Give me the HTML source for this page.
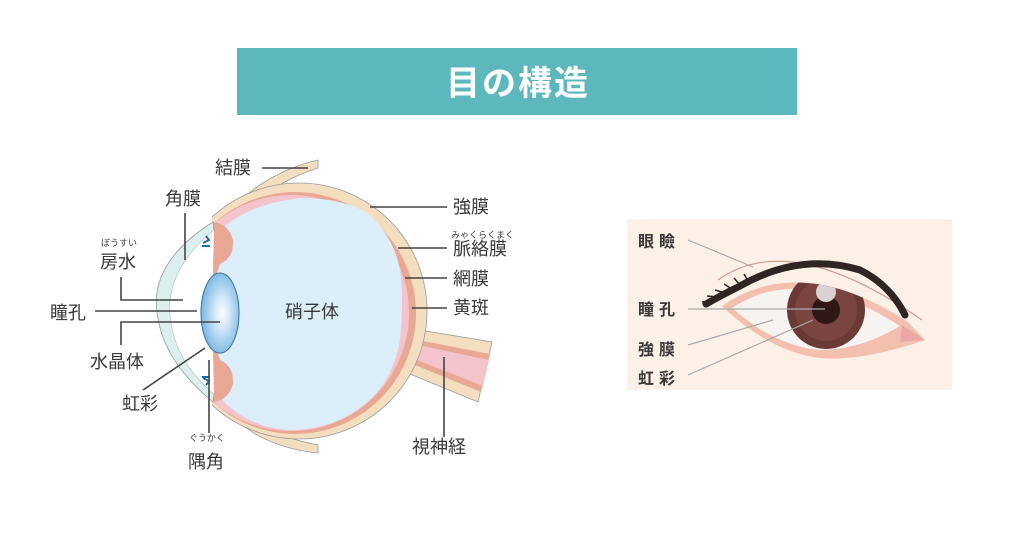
<!DOCTYPE html>
<html><head><meta charset="utf-8"><style>
html,body{margin:0;padding:0;background:#fff;width:1024px;height:553px;overflow:hidden}
svg{display:block}
text{font-family:"Liberation Sans","Noto Sans CJK JP",sans-serif;fill:#3a3a3a}
</style></head><body>
<svg width="1024" height="553" viewBox="0 0 1024 553" xmlns="http://www.w3.org/2000/svg">
<defs>
<radialGradient id="lens" cx="0.55" cy="0.5" r="0.6">
<stop offset="0" stop-color="#ffffff"/><stop offset="0.35" stop-color="#cfe6f7"/><stop offset="1" stop-color="#6aaee0"/>
</radialGradient>
<clipPath id="eyeclip"><path d="M722 306 Q800 252 908 322 L925 340 Q860 362 820 358 Q770 352 722 306Z"/></clipPath>
<clipPath id="right"><rect x="212" y="0" width="400" height="553"/></clipPath>
</defs>
<rect x="237" y="48" width="560" height="67" fill="#5db8be"/>
<text x="518" y="95" text-anchor="middle" font-size="34" font-weight="bold" style="fill:#fff" letter-spacing="2">目の構造</text>

<!-- optic nerve -->
<path d="M420 330 L492 342 L478 402 L405 372 Z" fill="#f3dfc0" stroke="#9a9a9a" stroke-width="0.8"/>
<path d="M418 340 L490 354 L481 392 L410 363 Z" fill="#e8a894"/>
<path d="M418 345 L489 360 L483 386 L412 358 Z" fill="#f4c4cc"/>
<!-- conjunctiva flaps -->
<path d="M236 205 Q268 172 318 160 L318 168 Q280 180 252 205 Z" fill="#f3dfc0" stroke="#9a9a9a" stroke-width="0.8"/>
<path d="M236 420 Q268 448 318 453 L318 445 Q280 438 252 420 Z" fill="#f3dfc0" stroke="#9a9a9a" stroke-width="0.8"/>
<g clip-path="url(#right)">
<circle cx="299" cy="311" r="128" fill="#f3dfc0" stroke="#9a9a9a" stroke-width="0.8"/>
<circle cx="295" cy="313" r="121" fill="#e8a894"/>
<circle cx="291" cy="313" r="118" fill="#f4c4cc"/>
<path d="M210 240 Q240 205 300 198 Q345 198 370 215 Q395 240 400 270 Q404 300 400 340 Q392 385 360 408 Q330 430 290 430 Q240 428 210 385 Z" fill="#dbeefa"/>
<path d="M210 222 Q228 222 233 240 Q234 258 220 264 L208 300 Z" fill="#e8a894"/>
<path d="M210 402 Q228 402 233 384 Q234 366 220 360 L208 325 Z" fill="#e8a894"/>
</g>
<!-- cornea -->
<path d="M213 222 Q150 262 157 312 Q162 360 213 402 L214 394 Q172 358 170 312 Q168 268 214 230 Z" fill="#dcefef" stroke="#9a9a9a" stroke-width="0.8"/>
<path d="M214 230 Q168 268 170 312 Q172 358 214 394 L212 312Z" fill="#fff"/>
<path d="M203 243 l6 -3 l-3 -4 M202 246 l8 0" stroke="#1a6cb0" stroke-width="2" fill="none"/>
<path d="M203 378 l6 3 l-3 4 M202 377 l8 0" stroke="#1a6cb0" stroke-width="2" fill="none"/>
<ellipse cx="220" cy="313" rx="19" ry="40" fill="url(#lens)" stroke="#3d6e9a" stroke-width="1"/>
<text x="312" y="318" text-anchor="middle" font-size="18">硝子体</text>

<g stroke="#444" stroke-width="1.6" fill="none">
<path d="M262 168 H308"/><path d="M185 213 V260"/><path d="M121 277 V300 H183"/>
<path d="M95 311 H197"/><path d="M121 345 V322 H220"/><path d="M143 390 L205 348"/>
<path d="M209 360 V433"/><path d="M370 207 H447"/><path d="M398 248 H447"/>
<path d="M405 278 H447"/><path d="M412 308 H447"/><path d="M444 357 V437"/>
</g>
<g font-size="18">
<text x="215" y="174">結膜</text><text x="165" y="205">角膜</text>
<text x="100" y="268">房水</text><text x="101" y="246" font-size="9">ぼうすい</text>
<text x="50" y="319">瞳孔</text><text x="90" y="368">水晶体</text>
<text x="122" y="410">虹彩</text><text x="188" y="468">隅角</text><text x="189" y="441" font-size="9">ぐうかく</text>
<text x="453" y="213">強膜</text><text x="451" y="238" font-size="9">みゃくらくまく</text>
<text x="453" y="255">脈絡膜</text><text x="453" y="285">網膜</text><text x="453" y="314">黄斑</text>
<text x="412" y="453">視神経</text>
</g>

<!-- right eye -->
<rect x="627" y="219" width="325" height="171" fill="#fdf0e6"/>
<path d="M718 280 Q790 228 922 320" stroke="#d49a90" stroke-width="1.2" fill="none"/>
<path d="M722 306 Q800 252 908 322 L925 340 Q860 362 820 358 Q770 352 722 306Z" fill="#f3bfae"/>
<path d="M732 308 Q800 262 900 326 Q860 350 820 350 Q775 346 732 308Z" fill="#f7f3f0"/>
<g clip-path="url(#eyeclip)">
<circle cx="826" cy="310" r="39" fill="#6b3a36"/>
<circle cx="826" cy="310" r="31" fill="#7a4541"/>
<circle cx="826" cy="310" r="14" fill="#2e1715"/>
<circle cx="826" cy="292" r="10" fill="#d8d2d2"/>
</g>
<path d="M902 325 L925 340 L900 342Z" fill="#eca7a4"/>
<path d="M706 304 Q720 296 740 286 Q800 252 860 270 Q890 285 905 315" stroke="#2f2522" stroke-width="7" fill="none" stroke-linecap="round"/>
<g stroke="#2f2522" stroke-width="1.5">
<path d="M712 301 l-10 1"/><path d="M718 297 l-11 -1"/><path d="M725 293 l-10 -3"/><path d="M732 289 l-8 -5"/><path d="M740 285 l-6 -7"/><path d="M748 281 l-4 -7"/>
</g>
<g stroke="#aaa" stroke-width="1.2">
<path d="M688 240 L753 267"/><path d="M688 309 L825 309"/><path d="M688 345 L773 320"/><path d="M688 375 L813 320"/>
</g>
<g font-size="16" font-weight="bold" letter-spacing="5">
<text x="638" y="247">眼瞼</text><text x="638" y="315">瞳孔</text>
<text x="638" y="355">強膜</text><text x="638" y="384">虹彩</text>
</g>
</svg>
</body></html>
